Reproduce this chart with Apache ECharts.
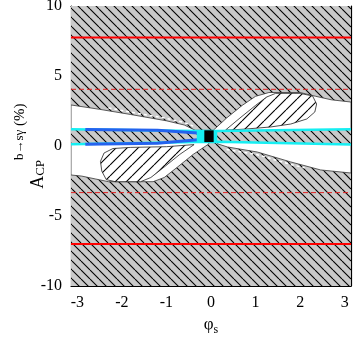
<!DOCTYPE html>
<html>
<head>
<meta charset="utf-8">
<script src="https://cdn.jsdelivr.net/npm/echarts@6/dist/echarts.min.js"></script>
<style>
  html, body { margin: 0; padding: 0; background: #fff; }
  #chart { width: 353px; height: 338px; }
</style>
</head>
<body>
<div id="chart"></div>
<script>
  const PI = Math.PI;

  // axis ticks
  const xTicks = [-3, -2, -1, 0, 1, 2, 3];
  const yTicks = [-10, -5, 0, 5, 10];

  // horizontal bounds (A_CP in %)
  const redSolid = [7.75, -7.0];
  const redDashed = [4.05, -3.33];

  // whole frame (excluded, gray hatch)
  const frame = [[-PI, 10], [PI, 10], [PI, -10], [-PI, -10]];

  // allowed regions (white)
  const allowedUpper = [[-PI, 2.93], [-2.5, 2.62], [-1.8, 2.25], [-1.0, 1.8], [-0.6, 1.5], [-0.35, 1.12],
    [0.05, 1.12], [0.35, 2.0], [0.7, 2.9], [1.0, 3.55], [1.3, 3.82], [2.0, 3.82], [2.35, 3.55],
    [2.7, 3.3], [PI, 3.14], [PI, 0.9], [-PI, 0.9]];
  const allowedLowerLeft = [[-PI, 0.35], [-0.05, 0.35], [-0.05, 0.15], [-0.4, -0.6], [-0.75, -1.5],
    [-1.05, -2.25], [-1.3, -2.55], [-2.3, -2.55], [-2.6, -2.35], [-2.9, -2.15], [-PI, -2.07]];
  const allowedLowerRight = [[0.15, 0.35], [PI, 0.35], [PI, -1.93], [2.46, -1.71], [1.79, -1.14],
    [1.04, -0.43], [0.37, -0.07], [0.15, 0.15]];

  // hatched lobes inside allowed region
  const lobeUpper = [[0.33, 1.15], [0.65, 2.0], [1.0, 2.9], [1.25, 3.5], [1.45, 3.76], [2.0, 3.76],
    [2.28, 3.57], [2.37, 3.0], [2.33, 2.43], [2.15, 1.93], [1.79, 1.57], [1.34, 1.36], [0.78, 1.21], [0.45, 1.15]];
  const lobeLower = [[-0.38, 0.1], [-1.0, -0.05], [-1.8, -0.1], [-2.2, -0.18], [-2.4, -0.5], [-2.48, -1.1],
    [-2.45, -1.8], [-2.35, -2.4], [-2.15, -2.55], [-1.58, -2.55], [-1.35, -2.25], [-1.05, -1.5], [-0.7, -0.6]];

  // narrow excluded band
  const band = [[-PI, 1.19], [-0.32, 1.07], [0.14, 1.07], [PI, 1.19], [PI, 0.12], [0.14, 0.3], [-0.32, 0.3], [-PI, 0.12]];

  const cyanUpper = [[-PI, 1.19], [-0.32, 1.07], [0.14, 1.07], [PI, 1.2]];
  const cyanLower = [[-PI, 0.12], [-0.32, 0.29], [0.14, 0.3], [PI, 0.1]];
  const blueUpper = [[-2.82, 1.17], [-1.2, 1.12], [-0.3, 0.93]];
  const blueLower = [[-2.82, 0.13], [-1.2, 0.2], [-0.3, 0.45]];
  const cyanBox = [[-0.32, 1.07], [0.14, 1.07], [0.14, 0.3], [-0.32, 0.3]];
  const blackBox = [[-0.15, 1.12], [0.06, 1.12], [0.06, 0.28], [-0.15, 0.28]];

  // dashed white contours
  const dashUpper = [[-2.3, 2.72], [-1.8, 2.42], [-1.0, 1.97], [-0.6, 1.68], [-0.4, 1.42]];
  const dashLower = [[0.35, -0.25], [1.04, -0.62], [1.79, -1.32], [2.1, -1.56]];

  function hatch(bg, dir, s, lw) {
    const c = document.createElement('canvas');
    c.width = s; c.height = s;
    const g = c.getContext('2d');
    g.fillStyle = bg;
    g.fillRect(0, 0, s, s);
    g.strokeStyle = '#000';
    g.lineWidth = lw;
    g.beginPath();
    for (let k = -1; k <= 1; k++) {
      if (dir === 'back') { g.moveTo(k * s, 0); g.lineTo(k * s + s, s); }
      else { g.moveTo(k * s, s); g.lineTo(k * s + s, 0); }
    }
    g.stroke();
    return { image: c, repeat: 'repeat' };
  }

  const grayHatch = hatch('#c9c9c9', 'back', 9, 1.1);
  const whiteHatch = hatch('#ffffff', 'fwd', 11, 1.1);

  let zc = 1;
  function poly(points, fill, stroke, lw) {
    return {
      type: 'custom', coordinateSystem: 'cartesian2d', data: points, z: zc++, silent: true, clip: true,
      renderItem(params, api) {
        if (params.dataIndex !== 0) return;
        const pts = points.map(p => api.coord(p));
        return { type: 'polygon', shape: { points: pts }, style: { fill: fill, stroke: stroke || null, lineWidth: lw || 0 } };
      }
    };
  }
  function line(points, color, width, type) {
    return {
      type: 'line', data: points, z: zc++, symbol: 'none', silent: true, animation: false,
      lineStyle: { color: color, width: width, type: type || 'solid' }
    };
  }

  const series = [
    poly(frame, grayHatch),
    poly(allowedUpper, '#fff', '#333', 0.8),
    poly(allowedLowerLeft, '#fff', '#333', 0.8),
    poly(allowedLowerRight, '#fff', '#333', 0.8),
    poly(lobeUpper, whiteHatch, '#222', 0.8),
    poly(lobeLower, whiteHatch, '#222', 0.8),
    poly(band, grayHatch),
    line(dashUpper, '#fff', 1.5, [3, 3]),
    line(dashLower, '#fff', 1.5, [3, 3]),
    line(cyanUpper, '#16eef2', 2.5),
    line(cyanLower, '#16eef2', 2.5),
    line(blueUpper, '#2462ee', 3),
    line(blueLower, '#2462ee', 3),
    poly(cyanBox, '#16eef2'),
    poly(blackBox, '#000'),
    ...redSolid.map(v => line([[-PI, v], [PI, v]], '#ff0000', 2)),
    ...redDashed.map(v => line([[-PI, v], [PI, v]], '#e02020', 1, [5, 3]))
  ];

  const font = 'Liberation Serif';
  const tickStyle = { color: '#000', width: 1 };

  const chart = echarts.init(document.getElementById('chart'), null, { renderer: 'canvas' });
  chart.setOption({
    animation: false,
    backgroundColor: '#fff',
    grid: { left: 71, right: 2, top: 6, bottom: 52, containLabel: false, outerBoundsMode: 'none' },
    xAxis: [{
      type: 'value', min: -PI, max: PI, position: 'bottom',
      axisLine: { onZero: false, lineStyle: { color: '#000', width: 1.2 } },
      axisTick: { inside: true, length: 7, customValues: xTicks, lineStyle: tickStyle },
      axisLabel: { customValues: xTicks, color: '#000', fontFamily: font, fontSize: 16, margin: 9 },
      splitLine: { show: false },
      name: '{p|φ}{s|s}', nameLocation: 'middle', nameGap: 30, nameMoveOverlap: false,
      nameTextStyle: {
        color: '#000', fontFamily: font,
        rich: { p: { fontSize: 17, fontFamily: font, lineHeight: 20, verticalAlign: 'top' },
                s: { fontSize: 12, fontFamily: font, lineHeight: 12, verticalAlign: 'bottom' } }
      }
    }, {
      type: 'value', min: -PI, max: PI, position: 'top',
      axisLine: { onZero: false, lineStyle: { color: '#000', width: 1.2 } },
      axisTick: { inside: true, length: 7, customValues: xTicks, lineStyle: tickStyle },
      axisLabel: { show: false }, splitLine: { show: false }
    }],
    yAxis: [{
      type: 'value', min: -10, max: 10, interval: 5, position: 'left',
      axisLine: { onZero: false, lineStyle: { color: '#000', width: 1.2 } },
      axisTick: { inside: true, length: 7, lineStyle: tickStyle },
      axisLabel: { customValues: yTicks, color: '#000', fontFamily: font, fontSize: 16, margin: 9 },
      splitLine: { show: false },
      name: '{a|A}{c|CP}{b|b→sγ}{p| (%)}{z| }', nameLocation: 'middle', nameRotate: 90, nameGap: 24,
      nameMoveOverlap: false,
      nameTextStyle: {
        color: '#000', fontFamily: font,
        rich: {
          a: { fontSize: 18, fontFamily: font, lineHeight: 20, verticalAlign: 'bottom' },
          c: { fontSize: 13, fontFamily: font, lineHeight: 14, verticalAlign: 'bottom' },
          b: { fontSize: 13, fontFamily: font, lineHeight: 14, verticalAlign: 'top' },
          p: { fontSize: 15, fontFamily: font, lineHeight: 17, verticalAlign: 'top' },
          z: { fontSize: 1, lineHeight: 34 }
        }
      }
    }, {
      type: 'value', min: -10, max: 10, interval: 5, position: 'right',
      axisLine: { onZero: false, lineStyle: { color: '#000', width: 1.2 } },
      axisTick: { inside: true, length: 7, lineStyle: tickStyle },
      axisLabel: { show: false }, splitLine: { show: false }
    }],
    series: series
  });
</script>
</body>
</html>
